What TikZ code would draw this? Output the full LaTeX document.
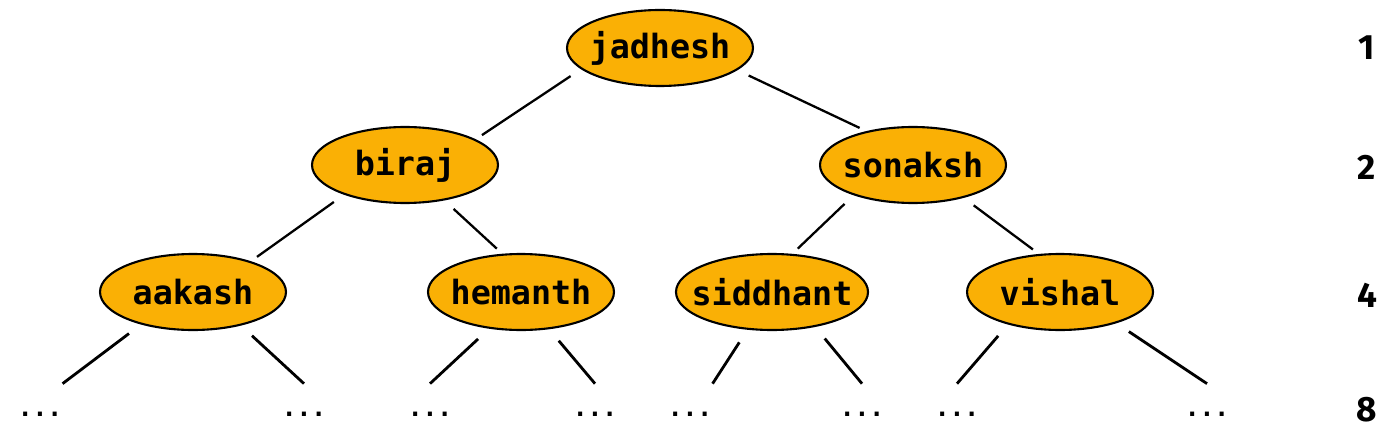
\documentclass[tikz,border=0pt]{standalone}
\usepackage{fontspec}
\setmonofont{DejaVu Sans Mono}
\setsansfont{Fira Sans}
\usetikzlibrary{shapes.geometric}
\definecolor{nodeorange}{RGB}{250,176,5}

\begin{document}
\begin{tikzpicture}
        [x=0.02cm, y=-0.02cm,
         person/.style={draw, shape=ellipse, fill=nodeorange, line width=1.2pt, inner xsep=-0.25cm, inner ysep=0,
           minimum width=3.72cm, minimum height=1.52cm, font=\ttfamily\bfseries\fontsize{19}{22}\selectfont},
         more/.style={inner sep=0, minimum height=1.2cm, font=\ttfamily\bfseries\fontsize{14}{16}\selectfont},
         level/.style={inner sep=0, font=\sffamily\bfseries\fontsize{20}{24}\selectfont},
         link/.style={line width=1.3pt, shorten <=0.25cm, shorten >=0.15cm},
         leaf/.style={line width=1.6pt, shorten <=0.3cm}]

        \useasboundingbox (0,0) rectangle (1388,442);

        \node[person] (jadhesh) at (660, 48) {jadhesh};
        \node[person] (biraj) at (405, 165) {biraj};
        \node[person] (sonaksh) at (913, 165) {sonaksh};
        \node[person] (aakash) at (193, 292) {aakash};
        \node[person] (hemanth) at (521, 292) {hemanth};
        \node[person] (siddhant) at (772, 292) {siddhant};
        \node[person] (vishal) at (1060, 292) {vishal};

        % leaves of the next level
        \node[more] (d1) at (40, 414) {...};
        \node[more] (d2) at (304, 414) {...};
        \node[more] (d3) at (430, 414) {...};
        \node[more] (d4) at (595, 414) {...};
        \node[more] (d5) at (690, 414) {...};
        \node[more] (d6) at (862, 414) {...};
        \node[more] (d7) at (957, 414) {...};
        \node[more] (d8) at (1207, 414) {...};

        % number of nodes on each level
        \node[level] (n1) at (1367, 48) {1};
        \node[level] (n2) at (1367, 167) {2};
        \node[level] (n4) at (1367, 295) {4};
        \node[level] (n8) at (1367, 410) {8};

        \draw[link] (jadhesh.195) -- (biraj.20);
        \draw[link] (jadhesh.344) -- (sonaksh.144);
        \draw[link] (biraj.206) -- (aakash.28);
        \draw[link] (biraj.318) -- (hemanth.116);
        \draw[link] (sonaksh.207) -- (siddhant.62);
        \draw[link] (sonaksh.327) -- (vishal.119);
        \draw[leaf] (aakash.212) -- (d1.north east);
        \draw[leaf] (aakash.325) -- (d2.north);
        \draw[leaf] (hemanth.229) -- (d3.north);
        \draw[leaf] (hemanth.307) -- (d4.north);
        \draw[leaf] (siddhant.237) -- (d5.north east);
        \draw[leaf] (siddhant.321) -- (d6.north);
        \draw[leaf] (vishal.212) -- (d7.north);
        \draw[leaf] (vishal.331) -- (d8.north);

      \end{tikzpicture}
\end{document}
